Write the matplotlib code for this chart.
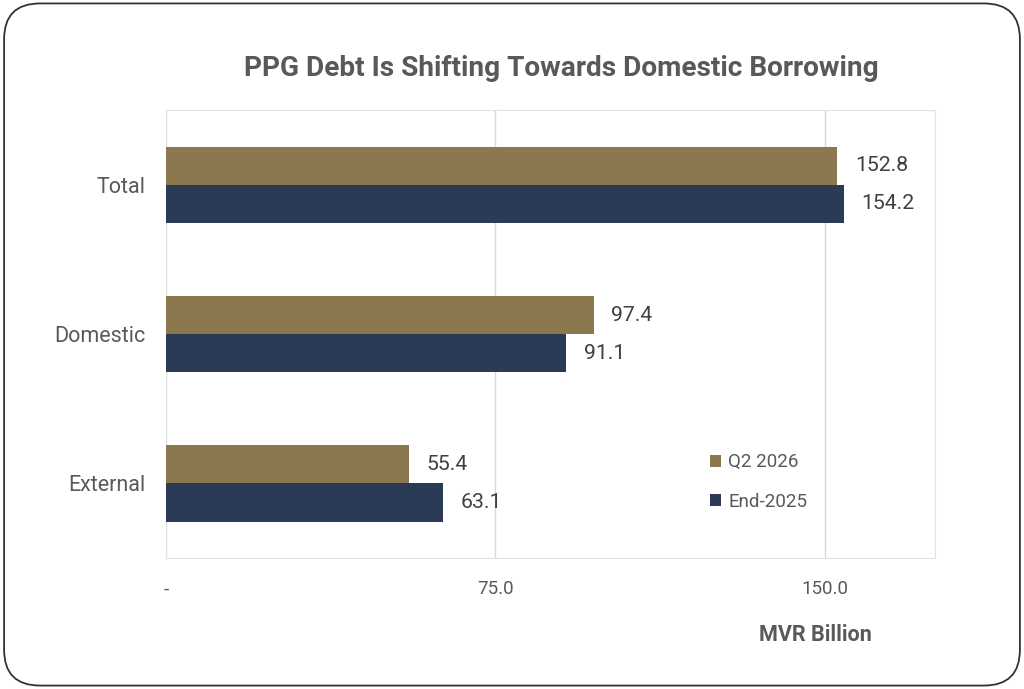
import matplotlib.pyplot as plt
import numpy as np
from matplotlib.patches import FancyBboxPatch

categories = ['Total', 'Domestic', 'External']
q2_2026 = [152.8, 97.4, 55.4]
end_2025 = [154.2, 91.1, 63.1]
series_names = ['Q2 2026', 'End-2025']
tick_vals = [0, 75, 150]
tick_labels = ['-', '75.0', '150.0']

plt.rcParams['font.family'] = ['Roboto', 'DejaVu Sans']

gold = '#8B784E'
navy = '#2B3A55'
text_col = '#595959'

fig = plt.figure(figsize=(10.24, 6.89), dpi=100)
fig.patches.append(FancyBboxPatch((0.004, 0.005), 0.992, 0.99,
                                  boxstyle='round,pad=0,rounding_size=0.035',
                                  transform=fig.transFigure, fill=False,
                                  edgecolor='#333333', linewidth=1.3,
                                  mutation_aspect=1024 / 689))

ax = fig.add_axes([0.162, 0.190, 0.751, 0.650])

y = np.arange(len(categories))
h = 0.255
b1 = ax.barh(y - h / 2, q2_2026, height=h, color=gold, label=series_names[0], zorder=3)
b2 = ax.barh(y + h / 2, end_2025, height=h, color=navy, label=series_names[1], zorder=3)

for bars, vals in ((b1, q2_2026), (b2, end_2025)):
    for bar, v in zip(bars, vals):
        ax.text(v + 4, bar.get_y() + bar.get_height() / 2, f'{v:.1f}',
                va='center', ha='left', fontsize=15.3, color='#404040')

ax.set_xlim(0, 175)
ax.set_ylim(2.5, -0.5)
ax.set_yticks(y)
ax.set_yticklabels(categories, fontsize=15.5, color=text_col)
ax.set_xticks(tick_vals)
ax.set_xticklabels(tick_labels, fontsize=13.5, color=text_col)
ax.tick_params(length=0)
ax.tick_params(axis='y', pad=15)
ax.tick_params(axis='x', pad=16)
ax.xaxis.grid(True, color='#D9D9D9', linewidth=1, zorder=0)
for s in ax.spines.values():
    s.set_color('#E3E3E3')

fig.text(0.548, 0.900, 'PPG Debt Is Shifting Towards Domestic Borrowing',
         ha='center', va='center', fontsize=20.2, fontweight='bold', color=text_col)
fig.text(0.796, 0.079, 'MVR Billion', ha='center', va='center',
         fontsize=15.5, fontweight='bold', color=text_col)

ax.legend(loc='lower left', bbox_to_anchor=(0.685, 0.068), frameon=False,
          fontsize=13.5, handlelength=0.6, handleheight=0.6, labelspacing=1.14,
          labelcolor=text_col, handletextpad=0.4)

fig.savefig('out.png', dpi=100)
